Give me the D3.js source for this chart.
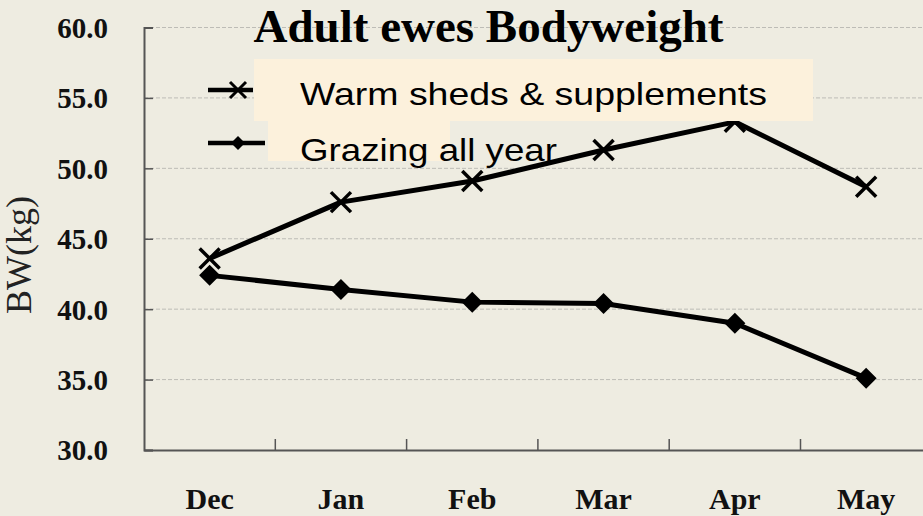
<!DOCTYPE html>
<html>
<head>
<meta charset="utf-8">
<script src="https://cdn.jsdelivr.net/npm/d3@7"></script>
<style>
  html, body { margin: 0; padding: 0; background: #eeece1; }
  svg { display: block; }
</style>
</head>
<body>
<svg id="chart" width="923" height="516"></svg>
<script>
const months = ["Dec", "Jan", "Feb", "Mar", "Apr", "May"];
const warmSheds = [43.6, 47.6, 49.1, 51.3, 53.3, 48.7];
const grazing = [42.4, 41.4, 40.5, 40.4, 39.0, 35.1];
const yTicks = [30, 35, 40, 45, 50, 55, 60];
const seriesNames = ["Warm sheds & supplements", "Grazing all year"];
const titleText = "Adult ewes Bodyweight";
const yTitle = "BW(kg)";

const svg = d3.select("#chart");
svg.append("rect").attr("width", 923).attr("height", 516).attr("fill", "#eeece1");

const plotLeft = 144, plotTop = 27.5, plotBottom = 450, bandW = 131.3;
const x = d3.scaleBand().domain(months).range([plotLeft, plotLeft + bandW * months.length]).padding(0);
const y = d3.scaleLinear().domain([30, 60]).range([plotBottom, plotTop]);

// gridlines
svg.append("g").selectAll("line").data(yTicks.filter(d => d > 30)).join("line")
  .attr("x1", plotLeft).attr("x2", 923)
  .attr("y1", d => y(d)).attr("y2", d => y(d))
  .attr("stroke", "#bdbcb6").attr("stroke-width", 1).attr("stroke-dasharray", "4,2");

// y axis
const yAxis = d3.axisLeft(y).tickValues(yTicks).tickSize(-9).tickPadding(36)
  .tickFormat(d3.format(".1f"));
const gy = svg.append("g").attr("transform", `translate(${plotLeft},0)`).call(yAxis);
gy.select(".domain").attr("stroke", "#555").attr("stroke-width", 2);
gy.selectAll(".tick line").attr("stroke", "#555").attr("stroke-width", 1.5);
gy.selectAll(".tick text")
  .attr("font-family", "'Liberation Serif', 'Times New Roman', serif")
  .attr("font-weight", "bold").attr("font-size", 29).attr("fill", "#111")
  .attr("dy", "0.34em");

// x axis
const xAxis = d3.axisBottom(x).tickSize(0).tickPadding(0);
const gx = svg.append("g").attr("transform", `translate(0,${plotBottom})`).call(xAxis);
gx.select(".domain").attr("stroke", "#555").attr("stroke-width", 2);
gx.selectAll(".tick text")
  .attr("font-family", "'Liberation Serif', 'Times New Roman', serif")
  .attr("font-weight", "bold").attr("font-size", 30).attr("fill", "#111")
  .attr("y", 59).attr("dy", 0);
// category separator ticks (inward)
svg.append("g").selectAll("line").data(months.slice(1)).join("line")
  .attr("x1", d => x(d)).attr("x2", d => x(d))
  .attr("y1", plotBottom).attr("y2", plotBottom - 11)
  .attr("stroke", "#555").attr("stroke-width", 1.5);

// y title
svg.append("text")
  .attr("transform", "translate(31,255) rotate(-90)")
  .attr("text-anchor", "middle")
  .attr("font-family", "'Liberation Serif', 'Times New Roman', serif")
  .attr("font-size", 36).attr("fill", "#222")
  .text(yTitle);

const cx = d => x(d) + x.bandwidth() / 2;
const line = d3.line().x((d, i) => cx(months[i])).y(d => y(d));

// series lines
svg.append("path").datum(warmSheds).attr("d", line)
  .attr("fill", "none").attr("stroke", "#000").attr("stroke-width", 5).attr("stroke-linejoin", "round");
svg.append("path").datum(grazing).attr("d", line)
  .attr("fill", "none").attr("stroke", "#000").attr("stroke-width", 5).attr("stroke-linejoin", "round");

function xMarker(g, px, py, s, w) {
  g.append("path").attr("d", `M${px - s},${py - s}L${px + s},${py + s}M${px - s},${py + s}L${px + s},${py - s}`)
    .attr("stroke", "#000").attr("stroke-width", w).attr("fill", "none");
}
function diamond(g, px, py, s) {
  g.append("path").attr("d", `M${px},${py - s}L${px + s},${py}L${px},${py + s}L${px - s},${py}Z`).attr("fill", "#000");
}
const mk = svg.append("g");
warmSheds.forEach((v, i) => xMarker(mk, cx(months[i]), y(v), 10, 3.5));
grazing.forEach((v, i) => diamond(mk, cx(months[i]), y(v), 10.5));

// legend
const lg = svg.append("g");
lg.append("rect").attr("x", 254).attr("y", 59).attr("width", 559).attr("height", 62).attr("fill", "#fcf1dc");
lg.append("rect").attr("x", 268).attr("y", 119).attr("width", 182).attr("height", 42).attr("fill", "#fcf1dc");
lg.append("line").attr("x1", 208).attr("x2", 253).attr("y1", 90).attr("y2", 90).attr("stroke", "#000").attr("stroke-width", 4.5);
xMarker(lg, 238, 90, 8, 3);
lg.append("line").attr("x1", 208).attr("x2", 265).attr("y1", 143).attr("y2", 143).attr("stroke", "#000").attr("stroke-width", 4.5);
diamond(lg, 238, 143, 7);
lg.append("text").attr("x", 300).attr("y", 105)
  .attr("font-family", "'Liberation Sans', Arial, sans-serif").attr("font-size", 32)
  .attr("textLength", 467).attr("lengthAdjust", "spacingAndGlyphs").attr("fill", "#000")
  .text(seriesNames[0]);
lg.append("text").attr("x", 300).attr("y", 161)
  .attr("font-family", "'Liberation Sans', Arial, sans-serif").attr("font-size", 32)
  .attr("textLength", 257).attr("lengthAdjust", "spacingAndGlyphs").attr("fill", "#000")
  .text(seriesNames[1]);

// title
svg.append("text").attr("x", 488.5).attr("y", 42).attr("text-anchor", "middle")
  .attr("font-family", "'Liberation Serif', 'Times New Roman', serif")
  .attr("font-weight", "bold").attr("font-size", 47).attr("fill", "#000")
  .text(titleText);
</script>
</body>
</html>
